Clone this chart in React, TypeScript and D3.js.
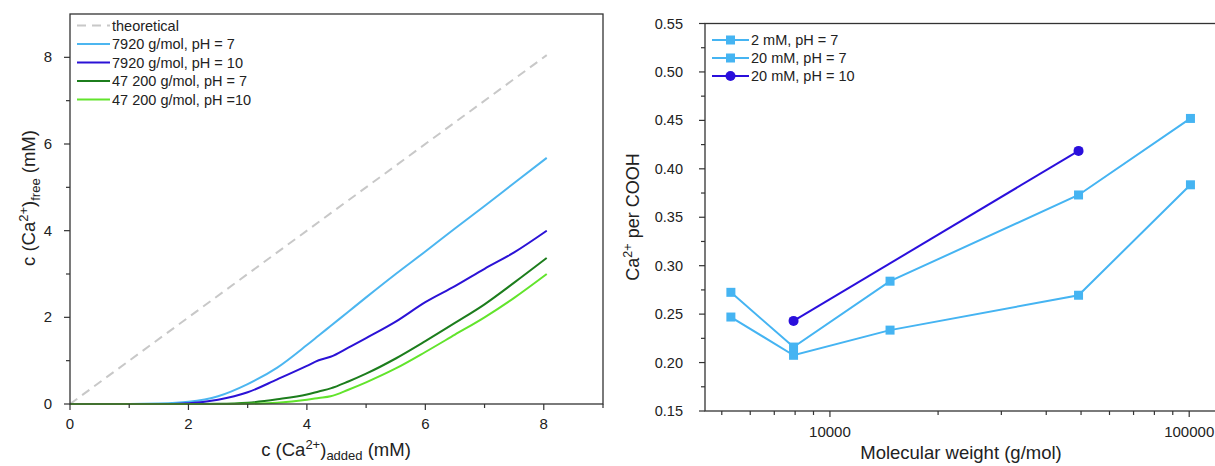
import React from "react";
import * as d3 from "d3";

// ---- left panel: free vs added Ca2+ ----
const caAdded = [0, 1, 1.5, 2, 2.5, 3, 3.5, 4, 4.2, 4.4, 4.7, 5, 5.5, 6, 6.5, 7, 7.5, 8.05];
const free7920pH7 = [0, 0, 0.01, 0.05, 0.18, 0.46, 0.84, 1.36, 1.58, 1.8, 2.13, 2.46, 3.0, 3.52, 4.05, 4.57, 5.1, 5.68];
const free7920pH10 = [0, 0, 0, 0.02, 0.1, 0.27, 0.57, 0.88, 1.01, 1.09, 1.3, 1.52, 1.9, 2.35, 2.72, 3.12, 3.5, 4.0];
const free47200pH7 = [0, 0, 0, 0, 0.005, 0.03, 0.11, 0.22, 0.29, 0.36, 0.52, 0.7, 1.05, 1.45, 1.87, 2.3, 2.8, 3.37];
const free47200pH10 = [0, 0, 0, 0, 0, 0.005, 0.03, 0.1, 0.14, 0.18, 0.33, 0.5, 0.82, 1.2, 1.6, 2.0, 2.45, 3.0];
const theoreticalX = [0, 8.05];
const leftTicks = [0, 2, 4, 6, 8];
const leftMinor = [1, 3, 5, 7, 9];

const leftSeries = [
  { name: "7920 g/mol, pH = 7", color: "#4cb6f0", values: free7920pH7 },
  { name: "7920 g/mol, pH = 10", color: "#2b12d6", values: free7920pH10 },
  { name: "47 200 g/mol, pH = 7", color: "#1c7d1c", values: free47200pH7 },
  { name: "47 200 g/mol, pH =10", color: "#62e42c", values: free47200pH10 },
];

// ---- right panel: Ca2+ per COOH vs molecular weight ----
const molWeight = [5300, 7920, 14700, 49200, 100800];
const ratio2mM = [0.247, 0.2075, 0.2335, 0.2695, 0.3835];
const ratio20mM = [0.2725, 0.216, 0.284, 0.373, 0.452];
const molWeightPH10 = [7920, 49200];
const ratio20mMpH10 = [0.243, 0.4185];
const rightTicks = [0.15, 0.2, 0.25, 0.3, 0.35, 0.4, 0.45, 0.5, 0.55];
const rightMinor = [0.175, 0.225, 0.275, 0.325, 0.375, 0.425, 0.475, 0.525];
const mwTicks = [10000, 100000];
const mwMinor = [5000, 6000, 7000, 8000, 9000, 20000, 30000, 40000, 50000, 60000, 70000, 80000, 90000];

const W = 1215;
const H = 466;
const FONT = "'Liberation Sans', Arial, sans-serif";
const AXIS = "#333";

export default function App() {
  // left scales
  const lx = d3.scaleLinear().domain([0, 9]).range([70, 603]);
  const ly = d3.scaleLinear().domain([0, 9]).range([404, 14]);
  const lLine = d3
    .line<[number, number]>()
    .x((d) => lx(d[0]))
    .y((d) => ly(d[1]))
    .curve(d3.curveMonotoneX);

  // right scales
  const rx = d3.scaleLog().domain([4490, 119500]).range([705, 1217]);
  const ry = d3.scaleLinear().domain([0.15, 0.55]).range([411, 23.5]);
  const rLine = d3
    .line<[number, number]>()
    .x((d) => rx(d[0]))
    .y((d) => ry(d[1]));

  const rightSeries = [
    { name: "2 mM, pH = 7", color: "#45b4f2", xs: molWeight, ys: ratio2mM, marker: "square" },
    { name: "20 mM, pH = 7", color: "#45b4f2", xs: molWeight, ys: ratio20mM, marker: "square" },
    { name: "20 mM, pH = 10", color: "#2a0fdc", xs: molWeightPH10, ys: ratio20mMpH10, marker: "circle" },
  ];

  const marker = (type: string, x: number, y: number, color: string, key?: any) =>
    type === "square" ? (
      <rect key={key} x={x - 4.5} y={y - 4.5} width={9} height={9} fill={color} />
    ) : (
      <circle key={key} cx={x} cy={y} r={5} fill={color} />
    );

  return (
    <svg
      width={W}
      height={H}
      style={{ position: "absolute", left: 0, top: 0, background: "#fff" }}
      fontFamily={FONT}
    >
      {/* ===== left panel ===== */}
      <g>
        <path
          d={lLine(theoreticalX.map((v) => [v, v]) as [number, number][]) || ""}
          fill="none"
          stroke="#c8c8c8"
          strokeWidth={2}
          strokeDasharray="9,6"
        />
        {leftSeries.map((s) => (
          <path
            key={s.name}
            d={lLine(caAdded.map((x, i) => [x, s.values[i]]) as [number, number][]) || ""}
            fill="none"
            stroke={s.color}
            strokeWidth={2}
          />
        ))}
        <rect x={70} y={14} width={603 - 70} height={404 - 14} fill="none" stroke={AXIS} strokeWidth={1.3} />
        {leftTicks.map((t) => (
          <g key={"lx" + t}>
            <line x1={lx(t)} x2={lx(t)} y1={404} y2={410} stroke={AXIS} strokeWidth={1.2} />
            <text x={lx(t)} y={429} fontSize={15} textAnchor="middle" fill="#222">{t}</text>
            <line x1={64} x2={70} y1={ly(t)} y2={ly(t)} stroke={AXIS} strokeWidth={1.2} />
            <text x={52} y={ly(t) + 5} fontSize={15} textAnchor="end" fill="#222">{t}</text>
          </g>
        ))}
        {leftMinor.map((t) => (
          <g key={"lm" + t}>
            <line x1={lx(t)} x2={lx(t)} y1={404} y2={408} stroke={AXIS} strokeWidth={1.2} />
            {t < 9 && <line x1={66} x2={70} y1={ly(t)} y2={ly(t)} stroke={AXIS} strokeWidth={1.2} />}
          </g>
        ))}
        <text x={336} y={456} fontSize={18.5} textAnchor="middle" fill="#222">
          c (Ca<tspan dy={-7} fontSize={13}>2+</tspan>
          <tspan dy={7}>)</tspan>
          <tspan dy={4} fontSize={13}>added</tspan>
          <tspan dy={-4}> (mM)</tspan>
        </text>
        <text transform="translate(35,198) rotate(-90)" fontSize={18.5} textAnchor="middle" fill="#222">
          c (Ca<tspan dy={-7} fontSize={13}>2+</tspan>
          <tspan dy={7}>)</tspan>
          <tspan dy={5} fontSize={13}>free</tspan>
          <tspan dy={-5}> (mM)</tspan>
        </text>
        {/* legend */}
        <g fontSize={14.5} fill="#222">
          <line x1={77} x2={110} y1={25.5} y2={25.5} stroke="#c8c8c8" strokeWidth={2} strokeDasharray="9,6" />
          <text x={112} y={30.5}>theoretical</text>
          {leftSeries.map((s, i) => (
            <g key={"leg" + s.name}>
              <line x1={77} x2={110} y1={44 + i * 18.5} y2={44 + i * 18.5} stroke={s.color} strokeWidth={2} />
              <text x={112} y={49 + i * 18.5}>{s.name}</text>
            </g>
          ))}
        </g>
      </g>

      {/* ===== right panel ===== */}
      <g>
        {rightSeries.map((s) => (
          <g key={s.name}>
            <path
              d={rLine(s.xs.map((x, i) => [x, s.ys[i]]) as [number, number][]) || ""}
              fill="none"
              stroke={s.color}
              strokeWidth={2}
            />
            {s.xs.map((x, i) => marker(s.marker, rx(x), ry(s.ys[i]), s.color, i))}
          </g>
        ))}
        <rect x={705} y={23.5} width={1217 - 705} height={411 - 23.5} fill="none" stroke={AXIS} strokeWidth={1.3} />
        {rightTicks.map((t) => (
          <g key={"ry" + t}>
            <line x1={699} x2={705} y1={ry(t)} y2={ry(t)} stroke={AXIS} strokeWidth={1.2} />
            <text x={683} y={ry(t) + 5} fontSize={14.5} textAnchor="end" fill="#222">{d3.format(".2f")(t)}</text>
          </g>
        ))}
        {rightMinor.map((t) => (
          <line key={"rm" + t} x1={701} x2={705} y1={ry(t)} y2={ry(t)} stroke={AXIS} strokeWidth={1.2} />
        ))}
        {mwTicks.map((t) => (
          <g key={"mx" + t}>
            <line x1={rx(t)} x2={rx(t)} y1={411} y2={417} stroke={AXIS} strokeWidth={1.2} />
            <text x={rx(t)} y={437} fontSize={15} textAnchor="middle" fill="#222">{t}</text>
          </g>
        ))}
        {mwMinor.map((t) => (
          <line key={"mm" + t} x1={rx(t)} x2={rx(t)} y1={411} y2={415} stroke={AXIS} strokeWidth={1.2} />
        ))}
        <text x={961} y={459} fontSize={18.5} textAnchor="middle" fill="#222">
          Molecular weight (g/mol)
        </text>
        <text transform="translate(639,217) rotate(-90)" fontSize={18} textAnchor="middle" fill="#222">
          Ca<tspan dy={-7} fontSize={12.5}>2+</tspan>
          <tspan dy={7}> per  COOH</tspan>
        </text>
        {/* legend */}
        <g fontSize={14.5} fill="#222">
          {rightSeries.map((s, i) => (
            <g key={"rleg" + s.name}>
              <line x1={712} x2={749} y1={40 + i * 18} y2={40 + i * 18} stroke={s.color} strokeWidth={2} />
              {marker(s.marker, 730.5, 40 + i * 18, s.color)}
              <text x={751} y={45 + i * 18}>{s.name}</text>
            </g>
          ))}
        </g>
      </g>
    </svg>
  );
}
